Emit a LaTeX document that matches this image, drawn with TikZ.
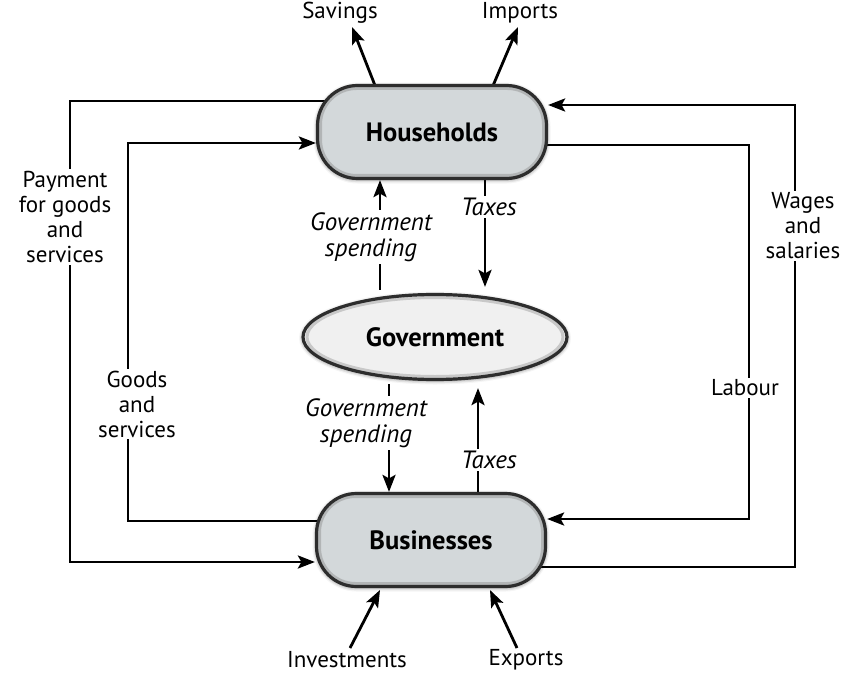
\documentclass[tikz,border=0pt]{standalone}
\usepackage{fontspec}
\setmainfont{PT Sans}
\usetikzlibrary{arrows.meta,shapes.geometric,shadows.blur,backgrounds,calc}
\definecolor{boxfill}{RGB}{211,216,218}
\definecolor{govfill}{RGB}{240,240,240}
\definecolor{rim}{RGB}{45,45,45}
\begin{document}
\begin{tikzpicture}[x=1pt,y=-1pt,
  font=\fontsize{23}{25}\selectfont,
  bevel/.style={rounded corners=36pt, draw=black!45, line width=3pt, opacity=0.45},
  agent/.style={rectangle, rounded corners=40pt, minimum width=229pt, minimum height=93pt,
    inner sep=0pt, fill=boxfill, draw=rim, line width=3.2pt,
    font=\fontsize{26.5}{28}\selectfont\bfseries,
    path picture={\draw[bevel] ($(path picture bounding box.north west)+(3,3)$) rectangle ($(path picture bounding box.south east)+(-3,-3)$);},
    blur shadow={shadow xshift=0pt, shadow yshift=-1pt, shadow blur radius=4pt, shadow opacity=60, shadow blur extra rounding=4pt}},
  govnode/.style={ellipse, minimum width=264pt, minimum height=85pt, inner sep=0pt,
    fill=govfill, draw=rim, line width=3.2pt,
    font=\fontsize{26.5}{28}\selectfont\bfseries,
    path picture={\draw[black!45, line width=3pt, opacity=0.4] (path picture bounding box.center) ellipse [x radius=128pt, y radius=39.5pt];},
    blur shadow={shadow xshift=0pt, shadow yshift=-1pt, shadow blur radius=4pt, shadow opacity=60}},
  flow/.style={line width=2.8pt, -{Stealth[length=17pt,width=13pt,inset=3.5pt]}},
  lbl/.style={fill=white, inner sep=2pt, align=center},
  ilbl/.style={lbl, font=\fontsize{25}{26}\selectfont\itshape}]
\useasboundingbox (0,0) rectangle (850,676);

% main nodes
\node[agent] (hh) at (432,132) {Households};
\node[agent] (bz) at (431,540) {Businesses};
\node[govnode] (gov) at (435,337) {Government};

% end labels
\node (sav) at (340,13) {Savings};
\node (imp) at (520,13) {Imports};
\node (inv) at (347,660) {Investments};
\node (exp) at (526,660) {Exports};

% flow labels
\node[lbl] (pay) at (65,217) {Payment\\for goods\\and\\services};
\node[lbl] (gas) at (137,404) {Goods\\and\\services};
\node[lbl] (lab) at (745,388) {Labour};
\node[lbl] (wag) at (803,226) {Wages\\and\\salaries};
\node[ilbl] (gs1) at (371,237) {Government\\spending};
\node[ilbl] (tx1) at (489,207) {Taxes};
\node[ilbl] (gs2) at (366,423) {Government\\spending};
\node[ilbl] (tx2) at (489,460) {Taxes};

% helper coordinates
\coordinate (savb) at (376,88);
\coordinate (savt) at (352,27);
\coordinate (impb) at (492,88);
\coordinate (impt) at (518,27);
\coordinate (invb) at (350,648);
\coordinate (invt) at (380,590);
\coordinate (expb) at (517,648);
\coordinate (expt) at (490,590);
\coordinate (c1) at (70,101);
\coordinate (c2) at (70,562);
\coordinate (c3) at (128,521);
\coordinate (c4) at (128,143);
\coordinate (c5) at (749,145);
\coordinate (c6) at (749,519);
\coordinate (c7) at (795,567);
\coordinate (c8) at (795,105);
\coordinate (x1) at (380,0);
\coordinate (x2) at (485,0);
\coordinate (x3) at (389,0);
\coordinate (x4) at (478,0);

\begin{pgfonlayer}{background}
\draw[flow] (savb) -- (savt);
\draw[flow] (impb) -- (impt);
\draw[flow] (invb) -- (invt);
\draw[flow] (expb) -- (expt);
\draw[flow] (hh |- c1) -- (c1) -- (c2) -- (bz.west |- c2);
\draw[flow] (bz |- c3) -- (c3) -- (c4) -- (hh.west |- c4);
\draw[flow] (hh |- c5) -- (c5) -- (c6) -- (bz.east |- c6);
\draw[flow] (bz |- c7) -- (c7) -- (c8) -- (hh.east |- c8);
\draw[flow] (x1 |- gov.north) ++(0,-3) -- (x1 |- hh.south);
\draw[flow] (x2 |- hh.south) -- ($(x2 |- gov.north)+(0,-6)$);
\draw[flow] (x3 |- gov.south) ++(0,3) -- (x3 |- bz.north);
\draw[flow] (x4 |- bz.north) -- ($(x4 |- gov.south)+(0,7)$);
\end{pgfonlayer}
\end{tikzpicture}
\end{document}
